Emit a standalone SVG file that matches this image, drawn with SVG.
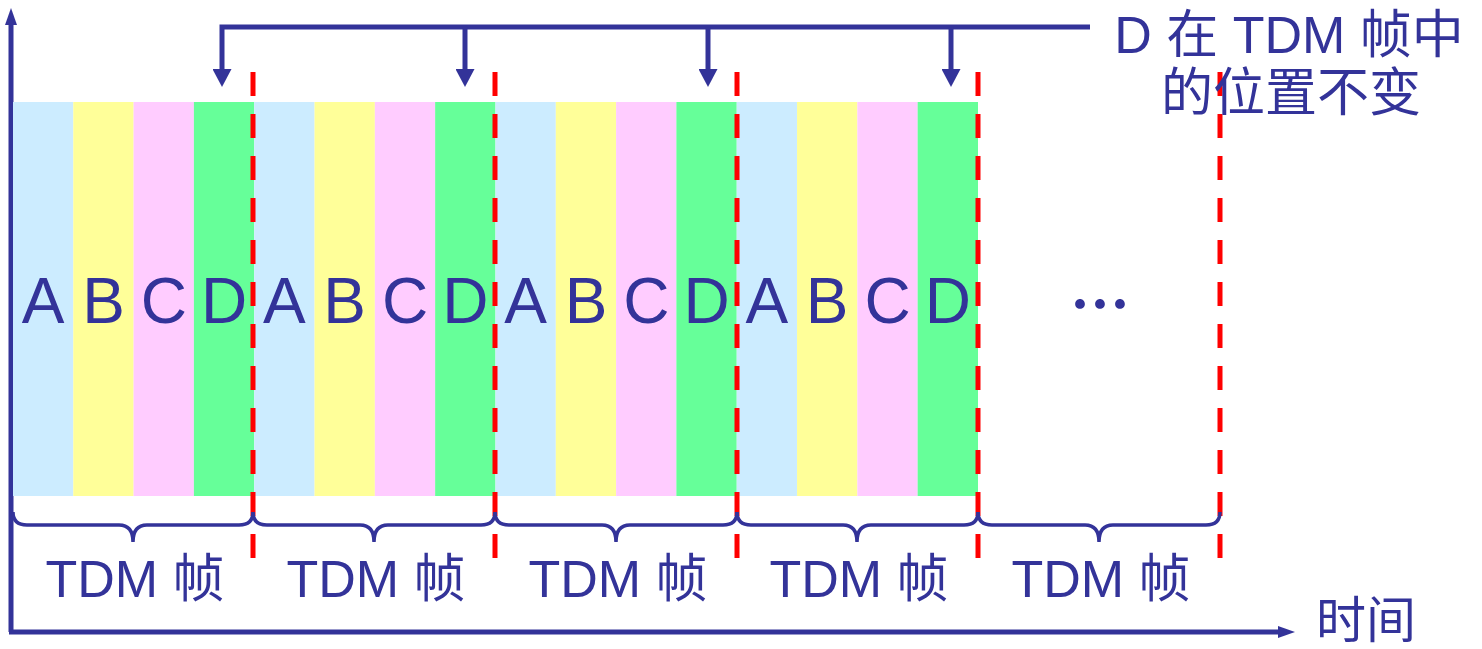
<svg xmlns="http://www.w3.org/2000/svg" width="1482" height="649" viewBox="0 0 1482 649">
<style>
.a{fill:#CCECFF}.b{fill:#FFFF99}.c{fill:#FFCCFF}.d{fill:#66FF99}
.t{font-family:"Liberation Sans","Noto Sans CJK SC",sans-serif;fill:#333399}
.big{font-size:64px;text-anchor:middle}
.lbl{font-size:52px;text-anchor:middle}
.brace{fill:none;stroke:#333399;stroke-width:3.5}
.red{stroke:#FF0000;stroke-width:5;stroke-dasharray:24 18;fill:none}
.ln{stroke:#333399;fill:none}
</style>
<defs>
<marker id="ah" markerUnits="userSpaceOnUse" viewBox="0 0 18 19" refX="0" refY="9.5" markerWidth="18" markerHeight="19" orient="auto"><path d="M0,0 L18,9.5 L0,19 z" fill="#333399"/></marker>
<marker id="ax" markerUnits="userSpaceOnUse" viewBox="0 0 17 12" refX="0" refY="6" markerWidth="17" markerHeight="12" orient="auto"><path d="M0,0 L17,6 L0,12 z" fill="#333399"/></marker>
</defs>

<g id="axes">
<line class="ln" x1="11" y1="632" x2="11" y2="25" stroke-width="5" marker-end="url(#ax)"/>
<line class="ln" x1="9" y1="632" x2="1278" y2="632" stroke-width="5" marker-end="url(#ax)"/>
<text class="t" x="1316" y="638" font-size="50">时间</text>
</g>

<g id="frame1">
<rect class="a" x="13" y="102" width="60.3" height="394"/>
<rect class="b" x="73.3" y="102" width="60.3" height="394"/>
<rect class="c" x="133.6" y="102" width="60.3" height="394"/>
<rect class="d" x="193.9" y="102" width="60.3" height="394"/>
<text class="t big" x="43.2" y="323">A</text>
<text class="t big" x="103.5" y="323">B</text>
<text class="t big" x="163.8" y="323">C</text>
<text class="t big" x="224" y="323">D</text>
</g>
<g id="frame2">
<rect class="a" x="254.25" y="102" width="60.3" height="394"/>
<rect class="b" x="314.55" y="102" width="60.3" height="394"/>
<rect class="c" x="374.85" y="102" width="60.3" height="394"/>
<rect class="d" x="435.15" y="102" width="60.3" height="394"/>
<text class="t big" x="284.4" y="323">A</text>
<text class="t big" x="344.7" y="323">B</text>
<text class="t big" x="405" y="323">C</text>
<text class="t big" x="465.3" y="323">D</text>
</g>
<g id="frame3">
<rect class="a" x="495.5" y="102" width="60.3" height="394"/>
<rect class="b" x="555.8" y="102" width="60.3" height="394"/>
<rect class="c" x="616.1" y="102" width="60.3" height="394"/>
<rect class="d" x="676.4" y="102" width="60.3" height="394"/>
<text class="t big" x="525.7" y="323">A</text>
<text class="t big" x="586" y="323">B</text>
<text class="t big" x="646.3" y="323">C</text>
<text class="t big" x="706.6" y="323">D</text>
</g>
<g id="frame4">
<rect class="a" x="736.75" y="102" width="60.3" height="394"/>
<rect class="b" x="797.05" y="102" width="60.3" height="394"/>
<rect class="c" x="857.35" y="102" width="60.3" height="394"/>
<rect class="d" x="917.65" y="102" width="60.35" height="394"/>
<text class="t big" x="766.9" y="323">A</text>
<text class="t big" x="827.2" y="323">B</text>
<text class="t big" x="887.5" y="323">C</text>
<text class="t big" x="947.8" y="323">D</text>
</g>
<g id="ellipsis">
<text x="1100" y="327" font-size="60" font-weight="bold" text-anchor="middle" fill="#333399" font-family="'Noto Sans CJK SC',sans-serif">…</text>
</g>

<g id="separators">
<line class="red" x1="253" y1="72" x2="253" y2="558"/>
<line class="red" x1="495" y1="72" x2="495" y2="558"/>
<line class="red" x1="737" y1="72" x2="737" y2="558"/>
<line class="red" x1="978" y1="72" x2="978" y2="558"/>
<line class="red" x1="1220" y1="72" x2="1220" y2="558"/>
</g>

<g id="braces">
<path class="brace" d="M13,512 Q13,525 27,525 L119,525 Q133,525 133,542 Q133,525 147,525 L239,525 Q253,525 253,512"/>
<path class="brace" d="M253,512 Q253,525 267,525 L360,525 Q374,525 374,542 Q374,525 388,525 L481,525 Q495,525 495,512"/>
<path class="brace" d="M495,512 Q495,525 509,525 L602,525 Q616,525 616,542 Q616,525 630,525 L723,525 Q737,525 737,512"/>
<path class="brace" d="M737,512 Q737,525 751,525 L843,525 Q857,525 857,542 Q857,525 871,525 L964,525 Q978,525 978,512"/>
<path class="brace" d="M978,512 Q978,525 992,525 L1085,525 Q1099,525 1099,542 Q1099,525 1113,525 L1206,525 Q1220,525 1220,512"/>
</g>

<g id="labels">
<text class="t lbl" x="135" y="597">TDM 帧</text>
<text class="t lbl" x="376" y="597">TDM 帧</text>
<text class="t lbl" x="618" y="597">TDM 帧</text>
<text class="t lbl" x="859" y="597">TDM 帧</text>
<text class="t lbl" x="1101" y="597">TDM 帧</text>
</g>

<g id="note">
<text class="t lbl" x="1289" y="53">D 在 TDM 帧中</text>
<text class="t lbl" x="1291" y="111">的位置不变</text>
</g>

<g id="connectors">
<path class="ln" stroke-width="5" d="M1090,27 H222 V69" marker-end="url(#ah)"/>
<line class="ln" stroke-width="5" x1="465" y1="27" x2="465" y2="69" marker-end="url(#ah)"/>
<line class="ln" stroke-width="5" x1="708" y1="27" x2="708" y2="69" marker-end="url(#ah)"/>
<line class="ln" stroke-width="5" x1="951" y1="27" x2="951" y2="69" marker-end="url(#ah)"/>
</g>
</svg>
